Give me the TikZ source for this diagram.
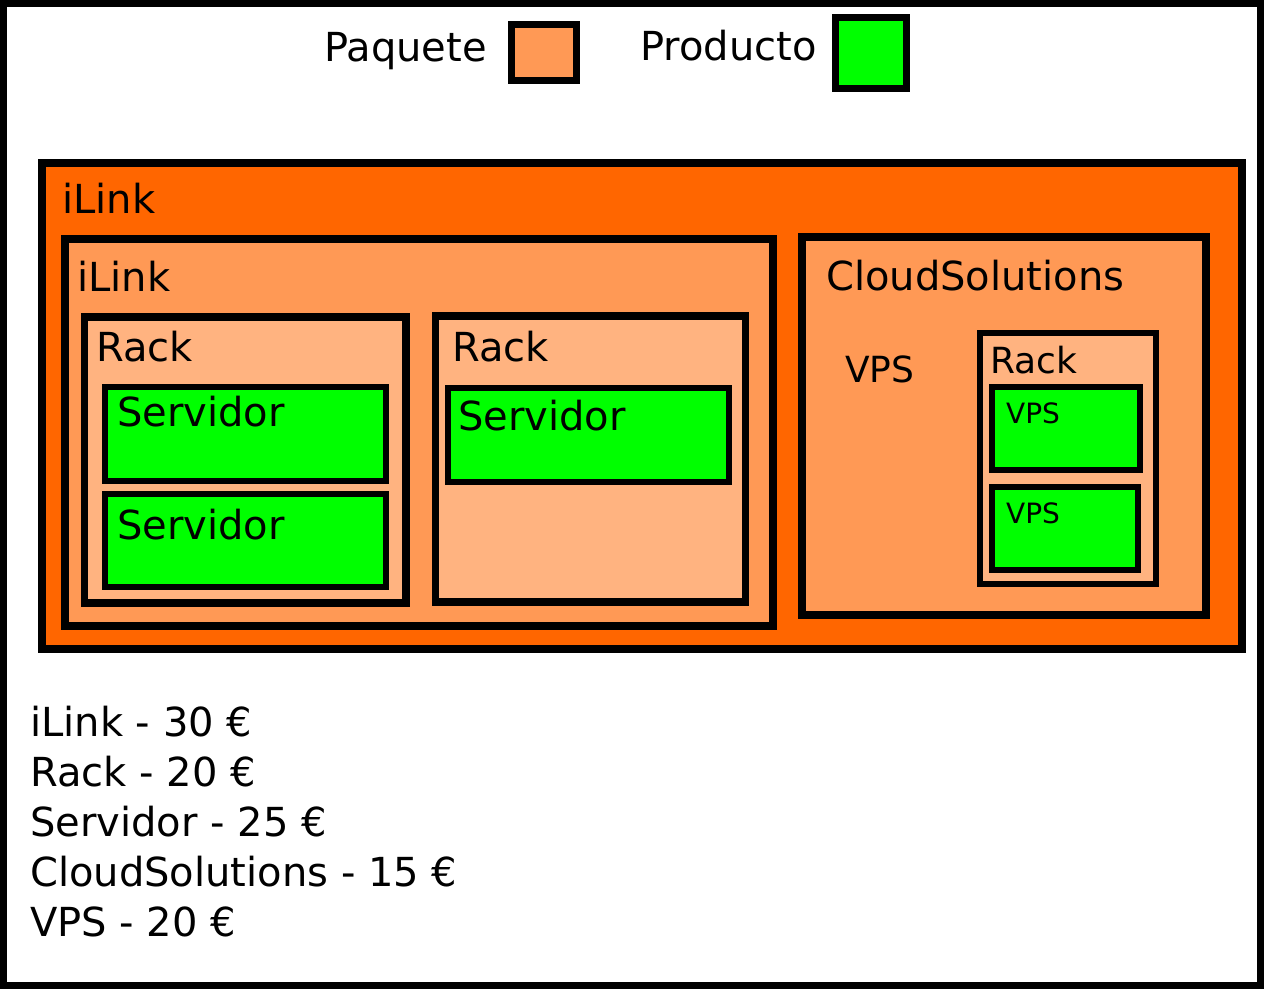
\documentclass[tikz,border=0pt]{standalone}
\usepackage{fontspec}
\setmainfont{DejaVu Sans}
\definecolor{pkgdark}{HTML}{FF6600}
\definecolor{pkg}{HTML}{FF9955}
\definecolor{rackfill}{HTML}{FFB380}
\definecolor{prod}{HTML}{00FF00}
\tikzset{
  txt/.style={anchor=base west, inner sep=0pt, font=\fontsize{40}{48}\selectfont},
  smalltxt/.style={txt, font=\fontsize{36}{43}\selectfont},
  tinytxt/.style={txt, font=\fontsize{28}{34}\selectfont}
}
\begin{document}
\begin{tikzpicture}[x=1pt,y=-1pt]
\useasboundingbox (0,0) rectangle (1264,989);
\fill [white] (0,0) rectangle (1264,989);
\draw [line width=7pt] (3.5,3.5) rectangle (1260.5,985.5);

% legend
\node [txt] (paquete) at (324,61.5) {Paquete};
\draw [fill=pkg, line width=7pt] (511,24) rectangle (576,80.5);
\node [txt] (producto) at (640,60) {Producto};
\draw [fill=prod, line width=7pt] (835.5,17.5) rectangle (906.5,88);

% outer package
\draw [fill=pkgdark, line width=8.5pt] (42,163) rectangle (1242,649);
\node [txt] (ilinkA) at (62,213) {iLink};

% inner iLink package
\draw [fill=pkg, line width=8pt] (65,239) rectangle (773,626);
\node [txt] (ilinkB) at (77,291.5) {iLink};

\draw [fill=rackfill, line width=7.5pt] (84.5,317) rectangle (406,603);
\node [txt] (rackA) at (96,361) {Rack};
\draw [fill=prod, line width=6pt] (104.5,387) rectangle (386,481);
\node [txt] (servA) at (117,426) {Servidor};
\draw [fill=prod, line width=6pt] (104.5,493.5) rectangle (386,586.5);
\node [txt] (servB) at (117,539) {Servidor};

\draw [fill=rackfill, line width=7.5pt] (435.5,316) rectangle (745.5,602);
\node [txt] (rackB) at (452,361.5) {Rack};
\draw [fill=prod, line width=6pt] (447.5,388) rectangle (728.5,481.5);
\node [txt] (servC) at (458,430.5) {Servidor};

% CloudSolutions package
\draw [fill=pkg, line width=7.5pt] (802,237) rectangle (1206,615);
\node [txt] (cloud) at (826,290.5) {CloudSolutions};
\node [smalltxt] (vpsA) at (845,382) {VPS};

\draw [fill=rackfill, line width=6pt] (979.5,333) rectangle (1155.5,583.5);
\node [smalltxt] (rackC) at (990,373) {Rack};
\draw [fill=prod, line width=6pt] (992,386.5) rectangle (1140,470);
\node [tinytxt] (vpsB) at (1006,423) {VPS};
\draw [fill=prod, line width=6pt] (992,486.5) rectangle (1138,569.5);
\node [tinytxt] (vpsC) at (1006,523) {VPS};

% prices
\node [txt] (priceA) at (30,736.5) {iLink - 30 €};
\node [txt] (priceB) at (30,786.5) {Rack - 20 €};
\node [txt] (priceC) at (30,836.5) {Servidor - 25 €};
\node [txt] (priceD) at (30,886) {CloudSolutions - 15 €};
\node [txt] (priceE) at (30,936) {VPS - 20 €};
\end{tikzpicture}
\end{document}
